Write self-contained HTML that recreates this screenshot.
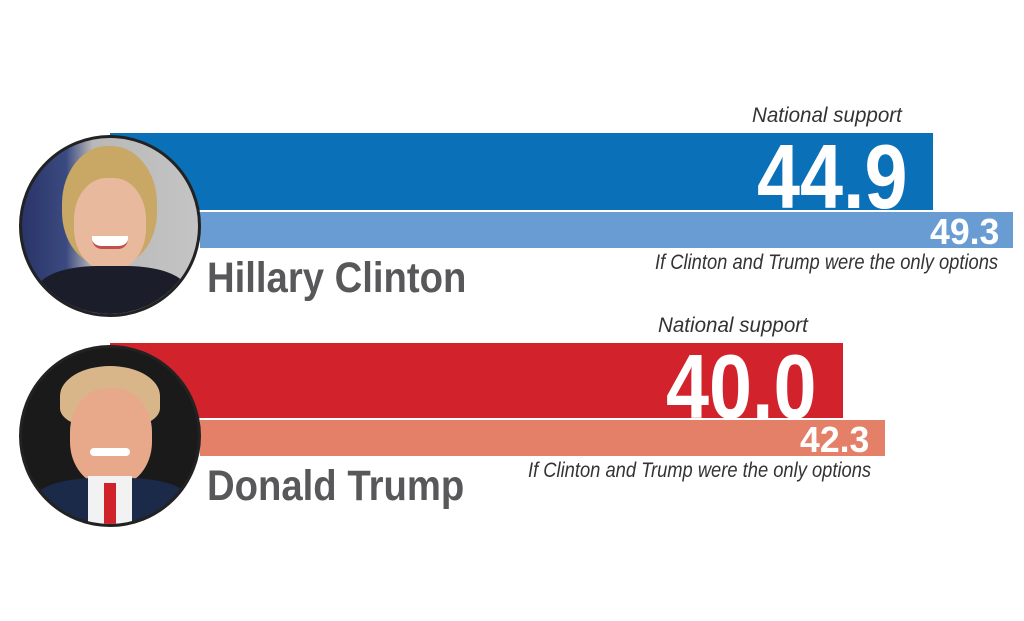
<!DOCTYPE html>
<html><head><style>
body{margin:0;width:1024px;height:621px;background:#fff;position:relative;overflow:hidden;font-family:"Liberation Sans",sans-serif}
.a{position:absolute}
.bar{position:absolute}
.it{position:absolute;font-style:italic;font-size:21px;color:#333;white-space:nowrap;transform-origin:left top;transform:scaleX(0.873)}
.ns{transform:scaleX(0.98)}
.num{position:absolute;font-weight:bold;color:#fff;white-space:nowrap;transform-origin:left top}
.name{position:absolute;font-weight:bold;color:#58585a;font-size:43px;white-space:nowrap;transform-origin:left top;transform:scaleX(0.89)}
.circ{position:absolute;width:176px;height:176px;border-radius:50%;border:3px solid #222;overflow:hidden}
</style></head><body>
<div class="bar" style="left:110px;top:133px;width:823px;height:77px;background:#0a71b9"></div>
<div class="bar" style="left:200px;top:212px;width:813px;height:36px;background:#689cd3"></div>
<div class="bar" style="left:110px;top:343px;width:733px;height:75px;background:#d2222b"></div>
<div class="bar" style="left:200px;top:420px;width:685px;height:36px;background:#e47f68"></div>

<div class="it ns" style="left:752px;top:104px">National support</div>
<div class="num" style="left:757px;top:126px;font-size:91px;transform:scaleX(0.85)">44.9</div>
<div class="num" style="left:930px;top:211px;font-size:36px;transform:scaleX(0.99)">49.3</div>
<div class="it" style="left:655px;top:251px">If Clinton and Trump were the only options</div>
<div class="name" style="left:207px;top:254px">Hillary Clinton</div>

<div class="it ns" style="left:658px;top:314px">National support</div>
<div class="num" style="left:666px;top:336px;font-size:91px;transform:scaleX(0.85)">40.0</div>
<div class="num" style="left:800px;top:419px;font-size:36px;transform:scaleX(0.99)">42.3</div>
<div class="it" style="left:528px;top:459px">If Clinton and Trump were the only options</div>
<div class="name" style="left:207px;top:462px">Donald Trump</div>

<div class="circ" style="left:19px;top:135px;background:linear-gradient(90deg,#2a3468 0%,#3a4a80 25%,#b8b8b8 40%,#c4c4c4 100%)">
 <div class="a" style="left:40px;top:8px;width:95px;height:120px;border-radius:48% 48% 45% 45%;background:#c9a765"></div>
 <div class="a" style="left:52px;top:40px;width:72px;height:92px;border-radius:45%;background:#e8b99c"></div>
 <div class="a" style="left:70px;top:98px;width:36px;height:10px;border-radius:0 0 10px 10px;background:#fff;border-bottom:3px solid #c0504d"></div>
 <div class="a" style="left:15px;top:128px;width:150px;height:60px;border-radius:40% 40% 0 0;background:#1b1d2a"></div>
</div>
<div class="circ" style="left:19px;top:345px;background:#1a1a1a">
 <div class="a" style="left:38px;top:18px;width:100px;height:60px;border-radius:50% 50% 30% 30%;background:#d8b68a"></div>
 <div class="a" style="left:48px;top:40px;width:82px;height:98px;border-radius:45%;background:#e7a98a"></div>
 <div class="a" style="left:68px;top:100px;width:40px;height:8px;border-radius:4px;background:#fff"></div>
 <div class="a" style="left:10px;top:130px;width:160px;height:60px;border-radius:40% 40% 0 0;background:#1c2a4a"></div>
 <div class="a" style="left:66px;top:128px;width:44px;height:50px;background:#f2f2f2"></div>
 <div class="a" style="left:82px;top:135px;width:12px;height:45px;background:#d0222a"></div>
</div>
</body></html>
